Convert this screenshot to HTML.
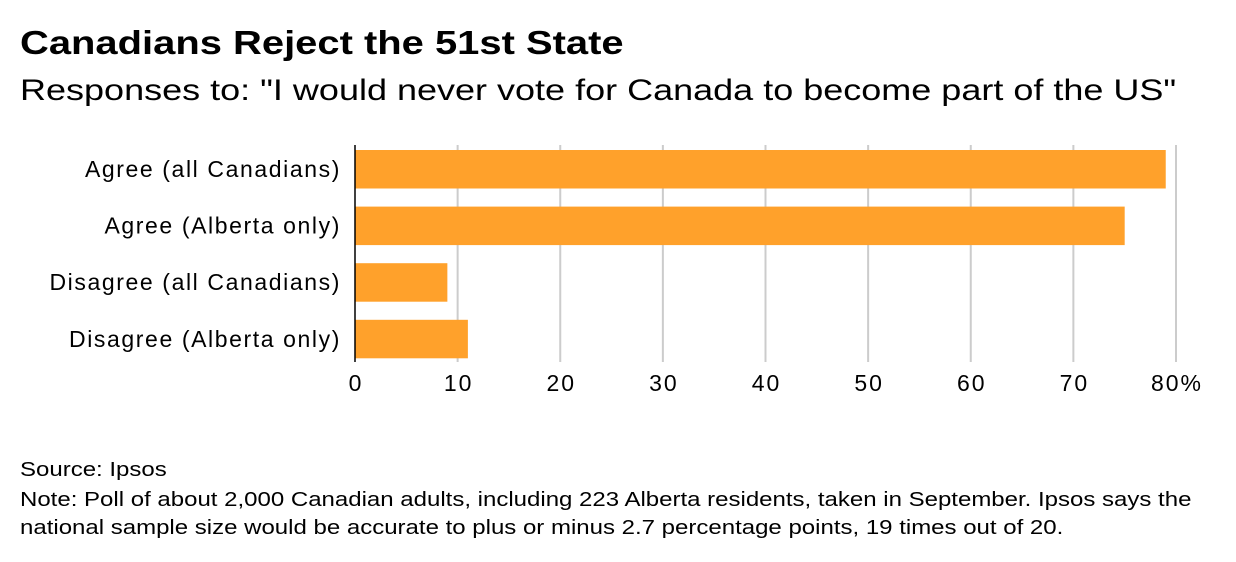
<!DOCTYPE html>
<html><head><meta charset="utf-8"><style>
body{margin:0;background:#fff;width:1236px;height:562px;overflow:hidden;font-family:"Liberation Sans",Arial,sans-serif;color:#000}
.t{position:absolute;white-space:nowrap;transform-origin:left top}
</style></head><body>
<div class="t" style="left:20px;top:24px;font-size:33px;font-weight:bold;transform:scaleX(1.21)">Canadians Reject the 51st State</div>
<div class="t" style="left:20px;top:74px;font-size:30px;transform:scaleX(1.2)">Responses to: "I would never vote for Canada to become part of the US"</div>
<svg id="c" width="1236" height="420" style="position:absolute;left:0;top:0"></svg>
<div class="t" style="left:20px;top:459px;font-size:20px;transform:scaleX(1.2)">Source: Ipsos</div>
<div class="t" style="left:20px;top:487px;font-size:20px;line-height:27.5px;transform:scaleX(1.2)">Note: Poll of about 2,000 Canadian adults, including 223 Alberta residents, taken in September. Ipsos says the<br>national sample size would be accurate to plus or minus 2.7 percentage points, 19 times out of 20.</div>
<script>
const categories=["Agree (all Canadians)","Agree (Alberta only)","Disagree (all Canadians)","Disagree (Alberta only)"];
const values=[79,75,9,11];
const ticks=[0,10,20,30,40,50,60,70,80];
const tickLabels=["0","10","20","30","40","50","60","70","80%"];
const svg=document.getElementById('c');
const NS="http://www.w3.org/2000/svg";
const x=v=>355+v*(1176-355)/80;
const y=i=>150+i*56.6;
function el(t,a){const e=document.createElementNS(NS,t);for(const k in a)e.setAttribute(k,a[k]);svg.appendChild(e);return e;}
ticks.forEach((t,i)=>{
 if(t>0){const g=el('line',{x1:x(t),x2:x(t),y1:145,y2:362,stroke:'#ccc','stroke-width':2});
 
 }
 const l=el('text',{x:x(t)+1,y:391,'font-size':23,'letter-spacing':2,'text-anchor':'middle','font-family':'Liberation Sans, Arial, sans-serif'});
 l.textContent=tickLabels[i];
 
 
});
categories.forEach((c,i)=>{
 const b=el('rect',{x:x(0),y:y(i),width:x(values[i])-x(0),height:38.5,fill:'#ffa12b'});
 
 
 const l=el('text',{x:341,y:y(i)+27,'font-size':23,'letter-spacing':1.6,'text-anchor':'end','font-family':'Liberation Sans, Arial, sans-serif'});
 l.textContent=c;
 
 
});
const a=el('line',{x1:x(0),x2:x(0),y1:145,y2:362,stroke:'#000','stroke-width':1.5});


</script>
</body></html>
